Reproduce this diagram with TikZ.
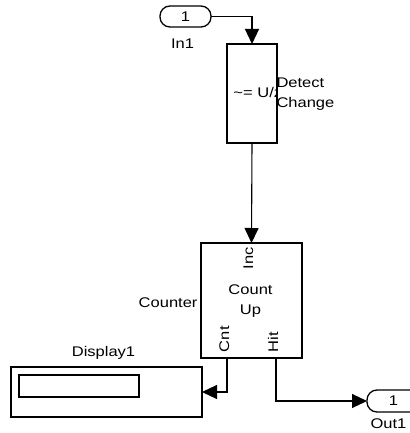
\documentclass[tikz,border=0pt]{standalone}
\usepackage{fontspec}
\setmainfont{Liberation Sans}[FakeStretch=1.18]
\usetikzlibrary{arrows.meta}
\begin{document}
\begin{tikzpicture}[x=1pt,y=-1pt,
  blk/.style={draw,line width=1.4pt,inner sep=0pt,outer sep=0pt},
  port/.style={draw,line width=1.3pt,rounded corners=10pt,minimum width=51pt,minimum height=21pt,inner sep=0pt,outer sep=0pt,font=\fontsize{14}{16}\selectfont},
  lbl/.style={inner sep=0pt,outer sep=0pt,font=\fontsize{14}{20}\selectfont},
  wire/.style={line width=1.1pt,-{Triangle[length=15pt,width=14pt]}}]
\useasboundingbox (0,0) rectangle (409,433);

% blocks
\node[port] (in1) at (185.5,16.5) {1};
\node[blk,minimum width=50pt,minimum height=99pt] (det) at (252,93.5) {};
\node[blk,minimum width=101pt,minimum height=115pt] (cnt) at (251.5,300.5) {};
\node[blk,minimum width=191pt,minimum height=50pt] (disp) at (106.5,392) {};
\node[blk,minimum width=120pt,minimum height=22pt] (dispin) at (79,386) {};
\node[port,minimum width=53pt,minimum height=22pt] (out1) at (393.5,401) {1};

% texts inside the Detect Change block (clipped)
\begin{scope}
  \clip (det.south west) rectangle (det.north east);
  \node[lbl,anchor=base west] (dtxt) at (219.7,98) {u \textasciitilde= U/z};
\end{scope}

% labels
\node[lbl,anchor=base] (in1l) at (182.5,48.5) {In1};
\node[lbl,anchor=north west,align=left] (detl) at (276.5,78) {Detect\\Change};
\node[lbl,anchor=north,align=center] (cntt) at (250.5,285) {Count\\Up};
\node[lbl,anchor=base east] (cntl) at (197.5,307) {Counter};
\node[lbl,anchor=base west,rotate=90] (inc) at (253,269) {Inc};
\node[lbl,anchor=base west,rotate=90] (cntp) at (229,352) {Cnt};
\node[lbl,anchor=base west,rotate=90] (hitp) at (278,352) {Hit};
\node[lbl,anchor=base] (displ) at (103.5,356) {Display1};
\node[lbl,anchor=base] (out1l) at (388.5,428) {Out1};

% port coordinates
\coordinate (cntout) at (227,358);
\coordinate (hitout) at (276,358);

% wires
\draw[wire] (in1.east) -| (det.north);
\draw[wire] (det.south) -- (cnt.north);
\draw[wire] (cntout) |- (disp.east);
\draw[wire] (hitout) |- (out1.west);
\end{tikzpicture}
\end{document}
